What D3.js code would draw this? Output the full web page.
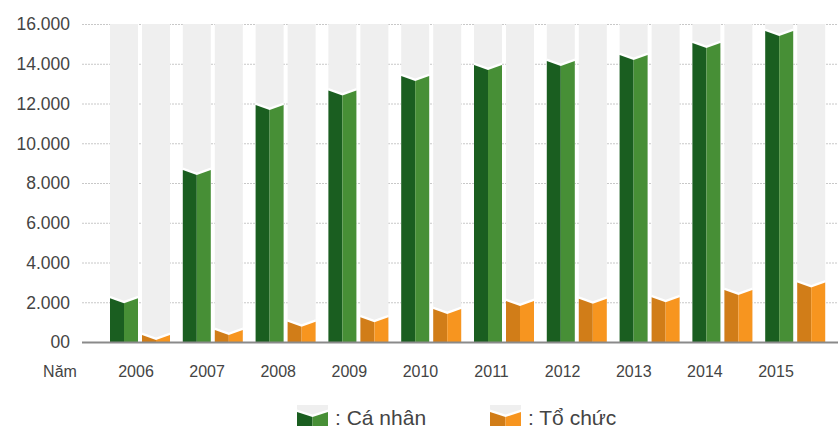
<!DOCTYPE html>
<html>
<head>
<meta charset="utf-8">
<script src="https://cdn.jsdelivr.net/npm/d3@7/dist/d3.min.js"></script>
<style>
  html, body { margin: 0; padding: 0; background: #fff; }
  svg { display: block; font-family: "Liberation Sans", Arial, Helvetica, sans-serif; }
</style>
</head>
<body>
<svg id="chart" width="838" height="429"></svg>
<script>
// ---- data ----
const years = ["2006","2007","2008","2009","2010","2011","2012","2013","2014","2015"];
const caNhan = [2200, 8650, 11920, 12650, 13380, 13940, 14140, 14440, 15040, 15650];
const toChuc = [350, 600, 1020, 1240, 1660, 2060, 2180, 2250, 2620, 3000];
const yTicks = [0, 2000, 4000, 6000, 8000, 10000, 12000, 14000, 16000];
const yTickLabels = ["00", "2.000", "4.000", "6.000", "8.000", "10.000", "12.000", "14.000", "16.000"];
const seriesNames = ["Cá nhân", "Tổ chức"];
const xAxisTitle = "Năm";

// ---- styles ----
const colors = {
  "Cá nhân": { dark: "#1a5e20", light: "#478f36" },
  "Tổ chức": { dark: "#d17d18", light: "#f7951f" }
};
const bgGrey = "#efefef";

const svg = d3.select("#chart");

const y = d3.scaleLinear().domain([0, 16000]).range([342, 24]);
const x = d3.scaleBand().domain(years).range([106, 834]).paddingInner(0).paddingOuter(0);
const xi = d3.scaleBand().domain(seriesNames).range([4, 64]).paddingInner(0.125);
const xl = d3.scalePoint().domain(years).range([136, 776]);

// grid lines
svg.append("g").selectAll("line").data(yTicks.slice(1)).join("line")
  .attr("x1", 82).attr("x2", 838)
  .attr("y1", d => y(d) + 0.5).attr("y2", d => y(d) + 0.5)
  .attr("stroke", "#c8c8c8").attr("stroke-width", 1).attr("stroke-dasharray", "2,1");

// y tick labels
svg.append("g").selectAll("text").data(yTicks).join("text")
  .attr("x", 70).attr("y", d => y(d)).attr("dy", "0.36em")
  .attr("text-anchor", "end").attr("font-size", 17.5).attr("fill", "#444")
  .text((d, i) => yTickLabels[i]);

const dip = 5;
const rows = [];
years.forEach((yr, i) => {
  rows.push({ yr, s: "Cá nhân", v: caNhan[i] });
  rows.push({ yr, s: "Tổ chức", v: toChuc[i] });
});

const bars = svg.append("g").selectAll("g").data(rows).join("g")
  .attr("transform", d => `translate(${x(d.yr) + xi(d.s)},0)`);
const bw = xi.bandwidth();
const y0 = y(0);

bars.append("rect")
  .attr("x", 0).attr("width", bw)
  .attr("y", y(16000)).attr("height", y0 - y(16000))
  .attr("fill", bgGrey);

bars.append("polygon")
  .attr("points", d => {
    const e = y(d.v) - 2.5;
    return [[0, e], [bw / 2, e + dip], [bw, e], [bw, y0], [0, y0]].map(p => p.join(",")).join(" ");
  })
  .attr("fill", "#fff");

bars.append("polygon")
  .attr("points", d => {
    const e = y(d.v);
    return [[0, e], [bw / 2, e + dip], [bw / 2, y0], [0, y0]].map(p => p.join(",")).join(" ");
  })
  .attr("fill", d => colors[d.s].dark);

bars.append("polygon")
  .attr("points", d => {
    const e = y(d.v);
    return [[bw / 2, e + dip], [bw, e], [bw, y0], [bw / 2, y0]].map(p => p.join(",")).join(" ");
  })
  .attr("fill", d => colors[d.s].light);

// baseline
svg.append("line").attr("x1", 82).attr("x2", 838)
  .attr("y1", y0 + 0.5).attr("y2", y0 + 0.5)
  .attr("stroke", "#8a8a8a").attr("stroke-width", 2);

// x labels
svg.append("g").selectAll("text").data(years).join("text")
  .attr("x", d => xl(d)).attr("y", 377)
  .attr("text-anchor", "middle").attr("font-size", 16).attr("fill", "#444")
  .text(d => d);
svg.append("text").attr("x", 60).attr("y", 377).attr("text-anchor", "middle")
  .attr("font-size", 16).attr("fill", "#444").text(xAxisTitle);

// legend
const legendX = d3.scaleOrdinal().domain(seriesNames).range([297, 490]);
const lg = svg.append("g").selectAll("g").data(seriesNames).join("g")
  .attr("transform", d => `translate(${legendX(d)},405)`);
const lw = 31, lh = 21;
lg.append("rect").attr("width", lw).attr("height", lh).attr("fill", bgGrey);
lg.append("polygon").attr("points", `0,4.5 ${lw/2},${4.5+dip} ${lw},4.5 ${lw},${lh} 0,${lh}`).attr("fill", "#fff");
lg.append("polygon").attr("points", `0,7 ${lw/2},${7+dip} ${lw/2},${lh} 0,${lh}`).attr("fill", d => colors[d].dark);
lg.append("polygon").attr("points", `${lw/2},${7+dip} ${lw},7 ${lw},${lh} ${lw/2},${lh}`).attr("fill", d => colors[d].light);
lg.append("text").attr("x", 38).attr("y", 20).attr("font-size", 21).attr("fill", "#444")
  .text(d => ": " + d);
</script>
</body>
</html>
